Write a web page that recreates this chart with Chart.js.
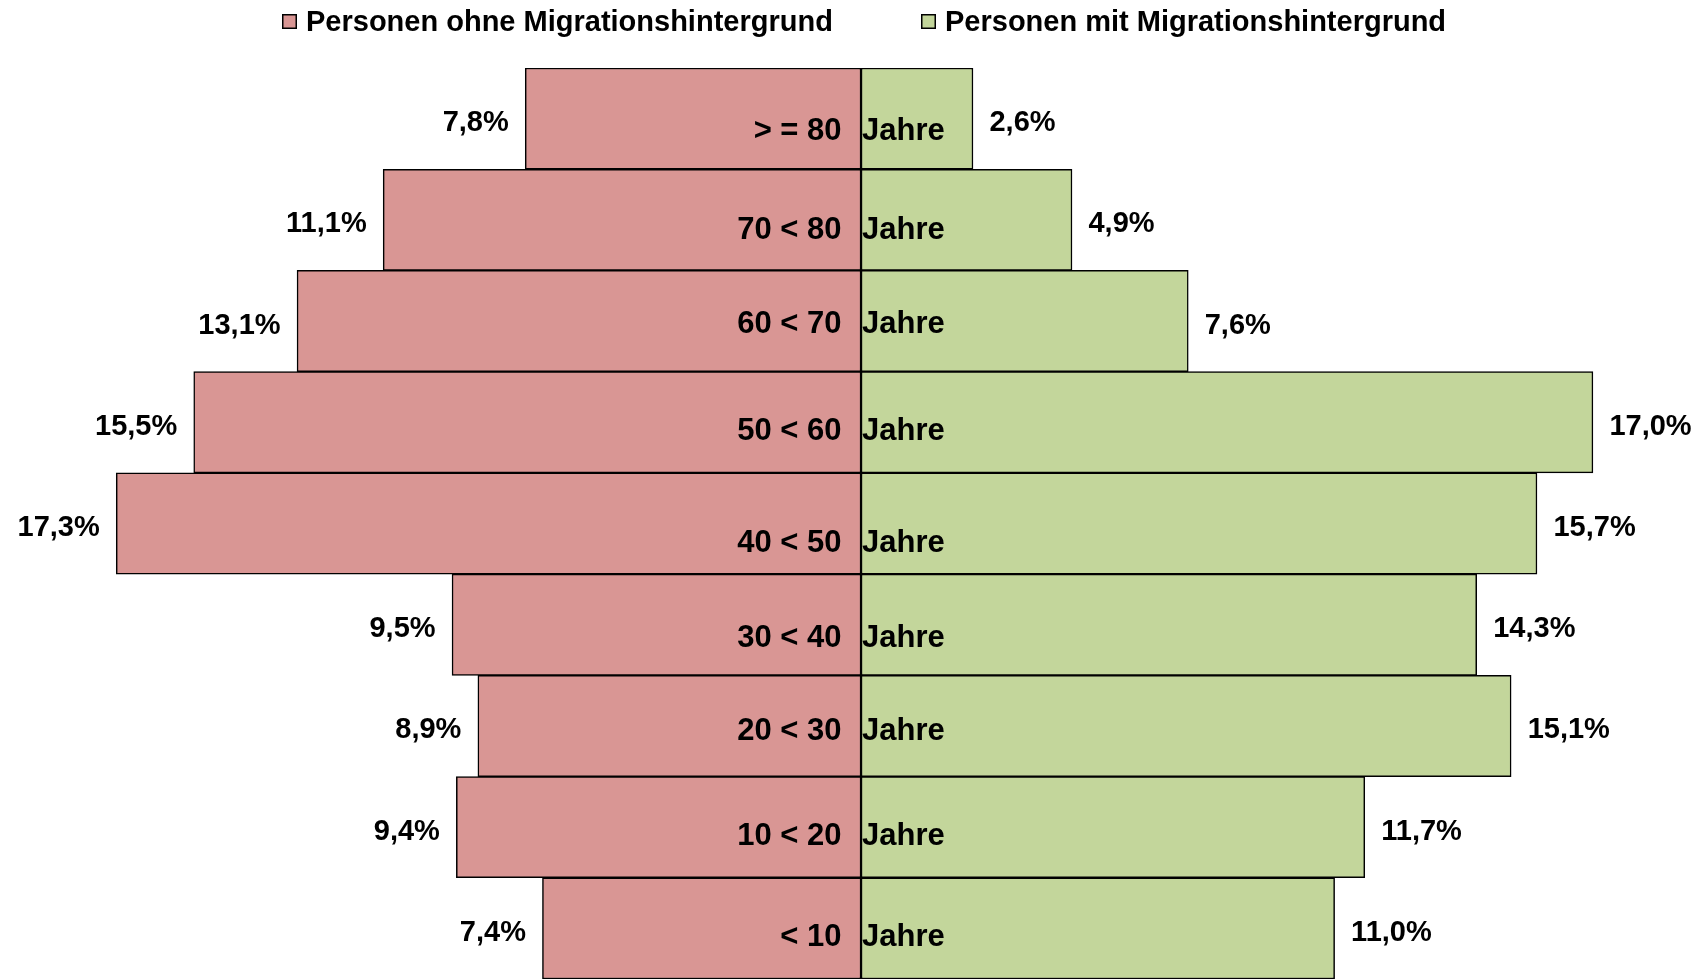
<!DOCTYPE html>
<html lang="de">
<head>
<meta charset="utf-8">
<title>Altersstruktur nach Migrationshintergrund</title>
<script src="https://cdn.jsdelivr.net/npm/chart.js@4/dist/chart.umd.min.js"></script>
<style>
html,body{margin:0;padding:0;background:#fff;overflow:hidden;}
#wrap{position:relative;width:1704px;height:979px;}
</style>
</head>
<body>
<div id="wrap"><canvas id="c"></canvas></div>
<script>
// ---- data ----
const categories = ['> = 80', '70 < 80', '60 < 70', '50 < 60', '40 < 50', '30 < 40', '20 < 30', '10 < 20', '< 10'];
const categorySuffix = 'Jahre';
const seriesNames = ['Personen ohne Migrationshintergrund', 'Personen mit Migrationshintergrund'];
const ohneMigration = [7.8, 11.1, 13.1, 15.5, 17.3, 9.5, 8.9, 9.4, 7.4];
const mitMigration = [2.6, 4.9, 7.6, 17.0, 15.7, 14.3, 15.1, 11.7, 11.0];

// ---- styles ----
const seriesColors = ['#D99694', '#C3D69B'];
const FONT = '"Liberation Sans", Arial, Helvetica, sans-serif';
const catLabelDy = [21.6, 18.7, 11.8, 17.4, 28.8, 22.4, 13.8, 17.5, 18.1];
const legendX = [282, 921];

function fmt(v) {
  return Math.abs(v).toFixed(1).replace('.', ',') + '%';
}

const legendPlugin = {
  id: 'customLegend',
  afterDraw(chart) {
    const ctx = chart.ctx;
    ctx.save();
    ctx.font = 'bold 29px ' + FONT;
    ctx.fillStyle = '#000';
    ctx.textBaseline = 'alphabetic';
    ctx.textAlign = 'left';
    chart.data.datasets.forEach((ds, i) => {
      const x = legendX[i];
      ctx.fillStyle = ds.backgroundColor;
      ctx.fillRect(x, 14, 15, 15);
      ctx.strokeStyle = '#000';
      ctx.lineWidth = 1.5;
      ctx.strokeRect(x + 0.75, 14.75, 13.5, 13.5);
      ctx.fillStyle = '#000';
      ctx.fillText(ds.label, x + 24, 31);
    });
    ctx.restore();
  }
};

const labelPlugin = {
  id: 'barLabels',
  afterDatasetsDraw(chart) {
    const ctx = chart.ctx;
    const xs = chart.scales.x;
    const ys = chart.scales.y;
    const xc = xs.getPixelForValue(0);
    ctx.save();
    ctx.fillStyle = '#000';
    ctx.textBaseline = 'alphabetic';
    // percent labels
    ctx.font = 'bold 29px ' + FONT;
    chart.data.datasets.forEach((ds, di) => {
      const meta = chart.getDatasetMeta(di);
      meta.data.forEach((el, i) => {
        const v = ds.data[i];
        if (v < 0) {
          ctx.textAlign = 'right';
          ctx.fillText(fmt(v), el.x - 16.5, el.y + 12.5);
        } else {
          ctx.textAlign = 'left';
          ctx.fillText(fmt(v), el.x + 16.5, el.y + 12.5);
        }
      });
    });
    // category labels
    ctx.font = 'bold 31px ' + FONT;
    categories.forEach((c, i) => {
      const yc = ys.getPixelForValue(i) + catLabelDy[i];
      ctx.textAlign = 'right';
      ctx.fillText(c, xc - 19.5, yc);
      ctx.textAlign = 'left';
      ctx.fillText(categorySuffix, xc + 1, yc);
    });
    ctx.restore();
  }
};

const chart = new Chart(document.getElementById('c'), {
  type: 'bar',
  data: {
    labels: categories,
    datasets: [
      {
        label: seriesNames[0],
        data: ohneMigration.map(v => -v),
        backgroundColor: seriesColors[0],
        borderColor: '#000',
        borderWidth: 1.5,
        borderSkipped: false
      },
      {
        label: seriesNames[1],
        data: mitMigration,
        backgroundColor: seriesColors[1],
        borderColor: '#000',
        borderWidth: 1.5,
        borderSkipped: false
      }
    ]
  },
  options: {
    indexAxis: 'y',
    responsive: true,
    maintainAspectRatio: false,
    devicePixelRatio: 1,
    animation: false,
    barPercentage: 1,
    categoryPercentage: 1,
    layout: { padding: { top: 68, left: 0, right: 0, bottom: -2 } },
    scales: {
      x: { display: false, stacked: true, min: -20, max: 19.58 },
      y: { display: false, stacked: true }
    },
    plugins: {
      legend: { display: false },
      tooltip: { enabled: false },
      title: { display: false }
    }
  },
  plugins: [legendPlugin, labelPlugin]
});
</script>
</body>
</html>
